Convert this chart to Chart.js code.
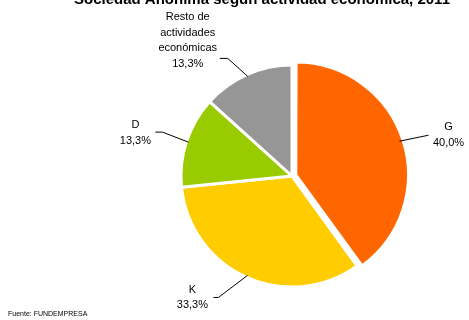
<!DOCTYPE html>
<html>
<head>
<meta charset="utf-8">
<script src="https://cdn.jsdelivr.net/npm/chart.js@4"></script>
<style>
html,body{margin:0;padding:0;background:#fff;}
#wrap{width:469px;height:320px;position:relative;}
</style>
</head>
<body>
<div id="wrap"><canvas id="c" width="469" height="320"></canvas></div>
<script>
const title = "Sociedad Anónima según actividad económica, 2011";
const source = "Fuente: FUNDEMPRESA";
const categories = [["G"], ["K"], ["D"], ["Resto de", "actividades", "económicas"]];
const values = [40.0, 33.3, 13.3, 13.3];
const colors = ["#FF6600", "#FFCC00", "#99CC00", "#969696"];

// label leader layout (style only): elbow delta from slice edge, tail length, text center relative to end of tail
const leaderLayout = [
  {elbow: [29, -6], tail: 0, text: [20, 0]},
  {elbow: [-29, 22], tail: -5, text: [-21, 0]},
  {elbow: [-26, -10], tail: -7, text: [-20, 1]},
  {elbow: [-20, -18], tail: -8, text: [-32, -18]}
];

const labelPlugin = {
  id: 'pieLabels',
  afterDatasetsDraw(chart) {
    const ctx = chart.ctx;
    const meta = chart.getDatasetMeta(0);
    ctx.save();
    ctx.font = '11px "Liberation Sans", Arial, sans-serif';
    ctx.textAlign = 'center';
    ctx.textBaseline = 'middle';
    meta.data.forEach((arc, i) => {
      const p = arc.getProps(['x', 'y', 'startAngle', 'endAngle', 'outerRadius'], true);
      const off = (arc.options.offset || 0) / 4;
      const mid = (p.startAngle + p.endAngle) / 2;
      const cx = p.x + Math.cos(mid) * off;
      const cy = p.y + Math.sin(mid) * off;
      const ex = cx + Math.cos(mid) * (p.outerRadius - 2);
      const ey = cy + Math.sin(mid) * (p.outerRadius - 2);
      const L = leaderLayout[i];
      const bx = ex + L.elbow[0], by = ey + L.elbow[1];
      const tx = bx + L.tail;
      ctx.strokeStyle = '#000';
      ctx.lineWidth = 1;
      ctx.beginPath();
      ctx.moveTo(ex, ey);
      ctx.lineTo(bx, by);
      ctx.lineTo(tx, by);
      ctx.stroke();
      const lines = categories[i].concat([values[i].toFixed(1).replace('.', ',') + '%']);
      const lh = 15.5;
      const centerX = tx + L.text[0];
      const centerY = by + L.text[1];
      const top = centerY - (lines.length - 1) * lh / 2;
      ctx.fillStyle = '#000';
      lines.forEach((t, k) => ctx.fillText(t, centerX, top + k * lh));
    });
    // title (partially cut at top) and source
    ctx.font = 'bold 15px "Liberation Sans", Arial, sans-serif';
    ctx.textAlign = 'center';
    ctx.textBaseline = 'alphabetic';
    ctx.fillText(title, 262, 4);
    ctx.font = '7px "Liberation Sans", Arial, sans-serif';
    ctx.textAlign = 'left';
    ctx.fillText(source, 8, 316);
    ctx.restore();
  }
};

new Chart(document.getElementById('c'), {
  type: 'pie',
  data: {
    labels: categories.map(c => c.join(' ')),
    datasets: [{
      data: values,
      backgroundColor: colors,
      borderColor: '#ffffff',
      borderWidth: 3,
      offset: [16, 0, 0, 0]
    }]
  },
  options: {
    responsive: false,
    animation: false,
    radius: 111,
    layout: {padding: {left: 165, right: 50, top: 60, bottom: 28}},
    plugins: {legend: {display: false}, tooltip: {enabled: false}, title: {display: false}}
  },
  plugins: [labelPlugin]
});
</script>
</body>
</html>
